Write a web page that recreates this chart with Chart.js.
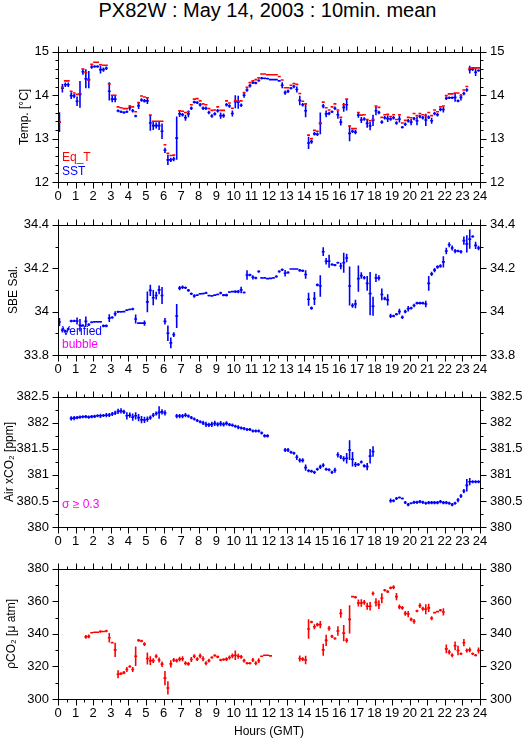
<!DOCTYPE html>
<html>
<head>
<meta charset="utf-8">
<script src="https://cdn.jsdelivr.net/npm/chart.js@4.4.1/dist/chart.umd.min.js"></script>
<style>
  body { margin: 0; background: #fff; width: 529px; height: 739px; position: relative; overflow: hidden; }
  canvas { position: absolute; left: 0; }
  #title { position: absolute; top: -1px; left: 0; width: 535px; text-align: center;
           font: 20px "Liberation Sans", Arial, sans-serif; line-height: 22px; color: #000; }
</style>
</head>
<body>
<div id="title">PX82W : May 14, 2003 : 10min. mean</div>
<canvas id="p1"></canvas>
<canvas id="p2"></canvas>
<canvas id="p3"></canvas>
<canvas id="p4"></canvas>
<script>
// 10-minute means, one value per 10-min slot from 00:00 GMT (144 slots)
const slotHours = 1 / 6;

// Temp. panel: SST (blue, with std dev) and Eq_T (red)
const sst = [13.38,14.16,14.24,14.24,13.99,13.98,13.86,14.02,14.54,14.38,
  14.36,14.65,14.66,14.66,14.59,14.59,14.62,14.09,13.91,13.91,
  13.64,13.62,13.60,13.62,13.71,13.64,13.52,13.76,13.89,13.87,
  13.87,13.36,13.30,13.30,13.30,13.17,12.73,12.51,12.51,12.53,
  13.01,13.57,13.55,13.48,13.57,13.70,13.84,13.83,13.78,13.70,
  13.70,13.60,13.52,13.57,13.64,13.53,13.53,13.78,13.75,13.58,
  13.85,13.84,13.77,14.00,14.12,14.22,14.29,14.28,14.34,14.39,
  14.39,14.38,14.36,14.36,14.36,14.33,14.23,14.06,14.09,14.16,
  14.20,14.13,13.88,13.78,13.64,12.90,12.93,13.11,13.10,13.35,
  13.75,13.57,13.58,13.62,13.70,13.55,13.38,13.72,13.78,13.12,
  13.17,13.15,13.54,13.43,13.45,13.35,13.29,13.42,13.64,13.60,
  13.38,13.48,13.46,13.45,13.48,13.36,13.45,13.26,13.33,13.41,
  13.38,13.46,13.41,13.51,13.48,13.43,13.49,13.41,13.58,13.55,
  13.67,13.67,13.93,13.94,13.94,13.95,13.87,13.95,14.04,14.12,
  14.59,14.60,14.53,14.57];
const sstSd = [0.23,0.10,0.05,0.05,0.08,0.05,0.11,0.31,0.07,0.22,
  0.20,0.04,0.03,0.03,0.09,0.05,0.04,0.21,0.07,0.07,
  0.03,0.03,0.03,0.03,0.06,0.04,0.03,0.08,0.04,0.04,
  0.07,0.18,0.10,0.07,0.10,0.18,0.06,0.12,0.05,0.05,
  0.50,0.07,0.04,0.07,0.08,0.04,0.03,0.03,0.04,0.04,
  0.04,0.04,0.04,0.04,0.04,0.07,0.05,0.04,0.04,0.07,
  0.15,0.15,0.04,0.06,0.04,0.04,0.03,0.03,0.03,0.03,
  0.02,0.02,0.02,0.02,0.02,0.02,0.07,0.05,0.04,0.03,
  0.04,0.07,0.11,0.04,0.15,0.14,0.05,0.04,0.04,0.25,
  0.05,0.08,0.04,0.03,0.04,0.09,0.08,0.10,0.13,0.18,
  0.04,0.05,0.06,0.07,0.04,0.10,0.10,0.13,0.10,0.04,
  0.04,0.04,0.08,0.04,0.04,0.04,0.08,0.03,0.04,0.04,
  0.07,0.04,0.10,0.04,0.04,0.14,0.04,0.07,0.04,0.04,
  0.04,0.07,0.04,0.03,0.03,0.10,0.03,0.07,0.04,0.04,
  0.09,0.04,0.09,0.03];
const eqT = [13.38,14.18,14.33,14.33,14.09,14.05,14.02,14.04,14.60,14.52,
  14.35,14.71,14.76,14.76,14.70,14.69,14.69,14.26,14.00,14.00,
  13.73,13.71,13.69,13.69,13.75,13.73,13.62,13.83,13.98,13.96,
  13.94,13.54,13.40,13.40,13.40,13.40,12.86,12.66,12.61,12.62,
  null,13.64,13.63,13.60,13.62,13.78,13.91,13.92,13.87,13.80,
  13.78,13.69,13.65,13.66,13.73,13.65,13.65,13.87,13.82,13.70,
  13.87,13.86,13.87,14.06,14.18,14.29,14.33,14.36,14.40,14.49,
  14.49,14.47,14.47,14.47,14.47,14.43,14.35,14.17,14.17,14.23,
  14.27,14.25,14.04,13.86,13.80,13.08,13.00,13.19,13.17,13.35,
  13.84,13.71,13.66,13.73,13.80,13.66,13.49,13.78,13.91,13.29,
  13.23,13.23,13.60,13.54,13.55,13.44,13.41,13.44,13.75,13.72,
  13.49,13.55,13.56,13.51,13.55,13.44,13.55,13.36,13.42,13.49,
  13.48,13.58,13.53,13.58,13.55,13.53,13.60,13.53,13.66,13.62,
  13.73,13.75,13.99,14.03,14.03,14.05,14.05,14.00,14.12,14.20,
  14.62,14.63,14.63,14.63];

// SBE salinity (verified)
const sal = [33.952,33.915,33.910,33.920,33.957,33.957,33.957,33.937,33.936,33.955,
  33.940,33.951,33.953,33.953,33.953,33.934,33.934,33.970,33.973,33.990,
  33.999,33.999,34.000,34.007,34.010,34.012,33.966,33.947,33.947,33.947,
  34.045,34.098,34.064,34.074,34.100,34.074,33.955,33.900,33.856,33.894,
  33.980,34.108,34.112,34.110,34.098,34.082,34.072,34.076,34.082,34.083,
  34.086,34.074,34.072,34.076,34.079,34.086,34.076,34.076,34.090,34.092,
  34.092,34.092,34.100,34.088,34.169,34.169,34.158,34.155,34.185,34.155,
  34.155,34.152,34.153,34.155,34.162,34.185,34.193,34.177,34.180,34.196,
  34.196,34.196,34.190,34.188,34.171,34.057,34.016,34.060,34.123,34.118,
  34.276,34.232,34.232,34.217,34.214,34.225,34.210,34.225,34.247,34.118,
  34.028,34.035,34.152,34.166,34.156,34.130,34.083,34.025,34.155,34.155,
  34.079,34.060,34.054,33.980,33.980,33.988,34.000,33.974,34.000,34.013,
  34.016,34.028,34.039,34.039,34.039,34.035,34.130,34.174,34.191,34.206,
  34.210,34.229,34.279,34.308,34.293,34.279,34.279,34.276,34.327,34.312,
  34.334,34.346,34.305,34.293];
const salSd = [0.018,0.011,0.006,0.006,0.006,0.005,0.016,0.029,0.006,0.022,
  0.006,0.005,0.004,0.004,0.004,0.006,0.006,0.018,0.006,0.012,
  0.005,0.004,0.004,0.004,0.004,0.006,0.021,0.004,0.004,0.012,
  0.048,0.026,0.035,0.018,0.020,0.039,0.015,0.036,0.025,0.011,
  0.055,0.010,0.008,0.006,0.006,0.006,0.008,0.004,0.004,0.004,
  0.005,0.004,0.004,0.004,0.004,0.006,0.005,0.006,0.004,0.004,
  0.006,0.008,0.015,0.005,0.022,0.006,0.010,0.006,0.006,0.004,
  0.004,0.004,0.004,0.004,0.006,0.006,0.006,0.015,0.006,0.002,
  0.002,0.002,0.006,0.006,0.020,0.030,0.008,0.030,0.006,0.050,
  0.020,0.015,0.030,0.006,0.005,0.005,0.015,0.046,0.020,0.090,
  0.010,0.020,0.060,0.015,0.008,0.034,0.100,0.044,0.019,0.012,
  0.027,0.008,0.026,0.010,0.006,0.006,0.013,0.008,0.008,0.013,
  0.006,0.008,0.006,0.006,0.006,0.015,0.034,0.010,0.010,0.008,
  0.008,0.026,0.015,0.012,0.012,0.010,0.006,0.008,0.019,0.040,
  0.044,0.006,0.017,0.010];

// Air xCO2 [ppm]
const airCo2 = [null,null,null,null,382.086,382.090,382.100,382.110,382.117,382.120,
  382.110,382.120,382.125,382.135,382.135,382.140,382.147,382.150,382.170,382.190,
  382.220,382.230,382.210,382.135,382.147,382.110,382.135,382.100,382.060,382.055,
  382.070,382.100,382.147,382.180,382.200,382.210,382.190,null,null,null,
  382.130,382.130,382.130,382.147,382.130,382.100,382.074,382.044,382.020,382.000,
  381.970,381.960,381.970,381.990,381.970,381.985,381.970,381.990,381.965,381.955,
  381.934,381.916,381.900,381.890,381.873,381.873,381.843,381.843,381.843,381.806,
  381.750,381.750,null,null,null,null,null,381.478,381.478,381.436,
  381.417,381.338,381.280,381.280,381.140,381.080,381.070,381.050,381.110,381.155,
  381.186,381.110,381.100,381.050,381.090,381.386,381.344,381.310,381.320,381.478,
  381.300,381.200,381.200,381.247,381.174,381.160,381.360,381.450,null,null,
  null,null,null,380.505,380.505,380.547,380.566,380.547,380.470,380.430,
  380.456,380.474,380.474,380.487,380.474,380.456,380.468,380.468,380.468,380.468,
  380.487,380.468,380.468,380.456,380.430,380.456,380.517,380.596,380.690,380.800,
  380.870,380.870,380.870,380.870];
const airCo2Sd = [null,null,null,null,0.04,0.04,0.03,0.03,0.03,0.03,
  0.03,0.03,0.03,0.03,0.04,0.03,0.04,0.04,0.04,0.04,
  0.05,0.05,0.04,0.07,0.05,0.07,0.07,0.07,0.07,0.06,
  0.05,0.04,0.04,0.04,0.12,0.05,0.05,null,null,null,
  0.04,0.04,0.04,0.04,0.03,0.03,0.03,0.03,0.03,0.04,
  0.05,0.04,0.05,0.05,0.04,0.05,0.04,0.04,0.03,0.03,
  0.03,0.04,0.03,0.03,0.03,0.03,0.03,0.03,0.03,0.03,
  0.03,0.03,null,null,null,null,null,0.04,0.04,0.03,
  0.03,0.05,0.04,0.04,0.06,0.03,0.03,0.03,0.03,0.04,
  0.04,0.03,0.03,0.03,0.05,0.05,0.04,0.05,0.10,0.19,
  0.14,0.05,0.03,0.03,0.03,0.07,0.14,0.10,null,null,
  null,null,null,0.04,0.03,0.03,0.02,0.02,0.03,0.03,
  0.02,0.03,0.03,0.03,0.03,0.03,0.03,0.03,0.03,0.03,
  0.03,0.03,0.03,0.03,0.03,0.03,0.04,0.04,0.04,0.12,
  0.07,0.03,0.03,0.03];

// pCO2 [uatm]
const pco2 = [null,null,null,null,null,null,null,null,null,338.2,
  338.5,340.7,341.0,341.0,341.5,341.5,341.8,337.6,334.6,330.2,
  315.2,315.6,316.2,318.1,320.0,318.1,326.3,336.0,335.6,333.7,
  324.9,323.6,323.6,326.3,324.0,321.4,312.8,306.8,321.6,324.0,
  323.6,324.5,324.7,322.0,321.6,324.3,326.3,324.5,326.5,324.7,
  322.0,323.6,325.5,326.7,325.9,324.0,324.3,324.5,325.5,326.5,
  326.9,326.3,325.9,323.6,322.0,322.0,324.0,322.0,323.6,326.3,
  326.9,326.9,326.5,null,null,null,null,null,null,null,
  null,null,324.9,324.5,324.0,343.0,347.3,344.4,345.7,345.7,
  330.2,336.0,343.4,338.5,337.2,341.8,352.6,340.5,336.0,348.9,
  362.9,362.5,359.0,359.0,359.4,357.0,357.0,364.8,359.4,358.0,
  361.9,366.8,366.0,368.3,368.7,362.9,356.6,356.0,352.6,352.2,
  348.9,347.7,354.1,357.4,355.5,355.1,356.0,349.6,353.1,353.7,
  354.5,353.5,330.8,328.8,326.9,332.7,329.8,327.8,334.6,329.8,
  330.2,327.8,326.9,329.8];
const pco2Sd = [null,null,null,null,null,null,null,null,null,1.2,
  1.2,0.5,0.5,0.5,0.8,0.5,0.8,2.9,0.5,4.4,
  2.5,0.8,1.0,1.5,0.8,1.5,6.0,0.8,0.8,1.2,
  3.7,2.7,1.5,1.2,1.5,1.7,4.4,4.1,2.2,1.2,
  1.2,1.5,1.5,1.2,1.2,1.5,1.2,1.2,1.5,1.5,
  1.2,1.2,0.8,0.8,0.8,0.8,0.8,1.2,1.2,1.5,
  2.9,1.5,1.2,1.2,0.8,0.8,1.2,1.2,1.5,0.5,
  0.3,0.3,0.3,null,null,null,null,null,null,null,
  null,null,1.9,1.2,2.6,6.0,0.8,1.5,1.2,2.2,
  3.7,3.5,1.5,1.0,0.8,2.9,2.7,5.0,1.5,8.7,
  0.5,0.8,2.2,2.3,1.5,2.1,2.6,1.2,2.5,2.7,
  3.1,0.8,0.8,0.8,1.2,2.3,1.5,1.2,1.5,1.9,
  1.2,1.5,0.8,1.5,1.2,3.1,2.5,1.2,0.5,0.5,
  0.8,2.2,2.7,1.5,1.2,2.7,2.9,0.8,2.2,1.2,
  1.5,0.8,0.8,1.9];

const BLUE = '#0000ff', RED = '#ff0000', MAGENTA = '#ff00ff';
const FONT = '"Liberation Sans", Arial, sans-serif';

// each 10-min mean: horizontal bar over its slot, vertical bar of +/- sd at slot centre
function marks(vals, sds) {
  const pts = [];
  vals.forEach((v, k) => {
    if (v === null) return;
    const t0 = k * slotHours, t1 = (k + 1) * slotHours, tc = (k + 0.5) * slotHours;
    pts.push({x: t0, y: v}, {x: t1, y: v}, {x: t1, y: null});
    if (sds && sds[k]) pts.push({x: tc, y: v - sds[k]}, {x: tc, y: v + sds[k]}, {x: tc, y: null});
  });
  return pts;
}

function series(vals, sds, color) {
  return {data: marks(vals, sds), showLine: true, borderColor: color, borderWidth: 1.6,
          pointRadius: 0, spanGaps: false, borderCapStyle: 'butt'};
}

// frame, major/minor ticks on all four sides, and the small in-plot notes
const framePlugin = {
  id: 'frame',
  afterDraw(chart, args, o) {
    const {ctx, chartArea: a, scales: {x, y}} = chart;
    const L = Math.round(a.left) + 0.5, R = Math.round(a.right) + 0.5;
    const T = Math.round(a.top) + 0.5, B = Math.round(a.bottom) + 0.5;
    ctx.save();
    ctx.strokeStyle = '#000';
    ctx.lineWidth = 1;
    ctx.strokeRect(L, T, R - L, B - T);
    ctx.beginPath();
    for (let i = 0; i <= 48; i++) {
      const px = Math.round(x.getPixelForValue(i / 2)) + 0.5;
      const len = i % 2 === 0 ? 6 : 3;
      ctx.moveTo(px, T); ctx.lineTo(px, T - len);
      ctx.moveTo(px, B); ctx.lineTo(px, B + len);
    }
    const n = Math.round((y.max - y.min) / o.minor);
    const every = Math.round(o.major / o.minor);
    for (let i = 0; i <= n; i++) {
      const py = Math.round(y.getPixelForValue(y.min + i * o.minor)) + 0.5;
      const len = i % every === 0 ? 6 : 3;
      ctx.moveTo(L, py); ctx.lineTo(L - len, py);
      ctx.moveTo(R, py); ctx.lineTo(R + len, py);
    }
    ctx.stroke();
    ctx.font = '12px ' + FONT;
    ctx.textBaseline = 'middle';
    ctx.textAlign = 'left';
    o.notes.forEach(nt => {
      ctx.fillStyle = nt.color;
      ctx.fillText(nt.text, a.left + 4, a.bottom - nt.dy);
    });
    ctx.restore();
  }
};

const fmt = v => String(+v.toFixed(2));

function panel(id, top, height, p) {
  const el = document.getElementById(id);
  el.style.top = top + 'px';
  el.width = 529;
  el.height = height;
  const plotH = 138;
  const xH = height - 10 - plotH;
  const yTicks = (pad) => ({stepSize: p.step, padding: pad, color: '#000', callback: fmt,
                            font: {family: FONT, size: 13}});
  new Chart(el, {
    type: 'scatter',
    data: {datasets: p.datasets},
    options: {
      responsive: false,
      animation: false,
      events: [],
      layout: {padding: {top: 10, left: 0, right: 0, bottom: 0}},
      plugins: {
        legend: {display: false},
        tooltip: {enabled: false},
        frame: {minor: p.minor, major: p.step, notes: p.notes}
      },
      scales: {
        x: {
          type: 'linear', position: 'bottom', min: 0, max: 24,
          ticks: {stepSize: 1, autoSkip: false, maxRotation: 0, padding: 7, color: '#000',
                  font: {family: FONT, size: 13}},
          grid: {display: false, drawTicks: false},
          border: {display: false},
          title: {display: !!p.xTitle, text: p.xTitle || '', color: '#000',
                  font: {family: FONT, size: 12}, padding: {top: 0, bottom: 0}},
          afterFit: s => { s.height = xH; }
        },
        y: {
          type: 'linear', position: 'left', min: p.min, max: p.max,
          ticks: yTicks(9),
          grid: {display: false, drawTicks: false},
          border: {display: false},
          title: {display: true, text: p.yTitle, color: '#000',
                  font: {family: FONT, size: 12}, padding: {top: p.titlePad, bottom: 0}},
          afterFit: s => { s.width = 58; }
        },
        y2: {
          type: 'linear', position: 'right', min: p.min, max: p.max,
          ticks: yTicks(10),
          grid: {display: false, drawTicks: false},
          border: {display: false},
          afterFit: s => { s.width = 49; }
        }
      }
    },
    plugins: [framePlugin]
  });
}

panel('p1', 34, 172, {
  min: 12, max: 15, step: 1, minor: 0.2, yTitle: 'Temp. [°C]', titlePad: 17,
  datasets: [series(eqT, null, RED), series(sst, sstSd, BLUE)],
  notes: [{text: 'Eq_T', color: RED, dy: 24}, {text: 'SST', color: BLUE, dy: 10}]
});
panel('p2', 207, 172, {
  min: 33.8, max: 34.4, step: 0.2, minor: 0.1, yTitle: 'SBE Sal.', titlePad: 6,
  datasets: [series(sal, salSd, BLUE)],
  notes: [{text: 'Verified', color: BLUE, dy: 23}, {text: 'bubble', color: MAGENTA, dy: 10}]
});
panel('p3', 379, 172, {
  min: 380, max: 382.5, step: 0.5, minor: 0.25, yTitle: 'Air xCO₂ [ppm]', titlePad: 2,
  datasets: [series(airCo2, airCo2Sd, BLUE)],
  notes: [{text: 'σ ≥ 0.3', color: MAGENTA, dy: 22}]
});
panel('p4', 551, 188, {
  min: 300, max: 380, step: 20, minor: 10, yTitle: 'ρCO₂ [μ atm]', xTitle: 'Hours (GMT)', titlePad: 4,
  datasets: [series(pco2, pco2Sd, RED)],
  notes: []
});
</script>
</body>
</html>
